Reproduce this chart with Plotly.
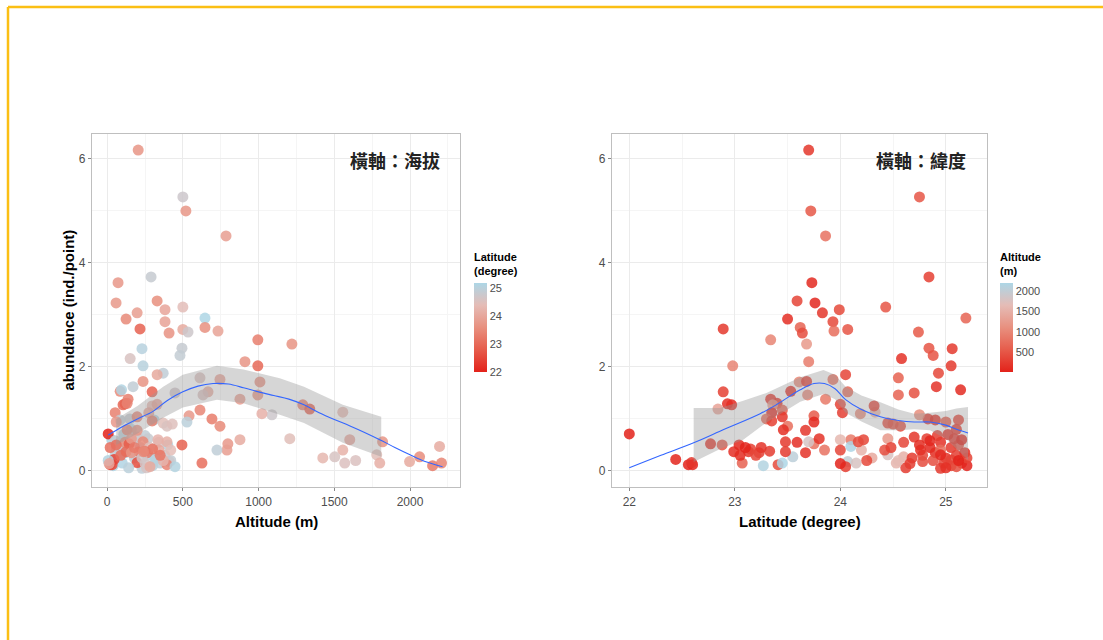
import plotly.graph_objects as go

# Survey points: altitude (m), latitude (degree), abundance (ind./point)
altitude_m = [
    60, 90, 150, 180, 220, 260, 100, 40, 300, 350, 400, 120, 250, 190, 110, 420,
    30, 270, 160, 230, 320, 380, 130, 340, 200, 90, 150, 310, 260, 410,
    205, 500, 520, 785, 290, 72, 330, 59, 500, 382, 198, 646, 125, 382, 646, 217,
    500, 732, 534, 409, 995, 1220, 230, 494, 481, 152, 910, 237, 995, 370, 330, 613,
    745, 1009, 237, 171, 86, 297, 666, 95, 995, 877, 633, 448, 105, 118, 132, 138,
    1292, 1338, 1556, 297, 330, 275, 53, 1088, 1022, 541, 613, 692, 745, 7, 877, 797,
    791, 725, 494, 626, 395, 1206, 1602, 1556, 1424, 1503, 1569, 1641, 1780, 1819, 1997, 2063,
    2149, 2208, 2195, 1800, 86, 198, 132, 198, 297, 370, 395, 53, 118, 145, 237, 336,
    395, 527, 53, 125, 211, 266, 343, 420, 316, 20, 33, 46, 198, 251, 448, 142,
    283, 7, 13, 430, 160, 60, 160, 370, 230, 280, 60, 250, 90, 300, 350, 20,
    180, 240,
]
latitude_deg = [
    24.85, 24.90, 24.95, 25.00, 25.05, 25.10, 25.15, 25.20, 25.05, 24.98, 25.12, 25.18, 24.92, 25.08, 25.02, 24.88,
    25.15, 24.82, 25.10, 24.95, 25.20, 24.78, 24.76, 24.60, 24.70, 24.75, 24.83, 25.12, 24.62, 24.78,
    23.70, 24.75, 23.72, 23.86, 24.84, 23.73, 23.59, 23.76, 24.43, 23.99, 23.83, 25.19, 23.50, 23.93, 23.62, 22.89,
    24.07, 23.94, 24.74, 23.64, 23.34, 23.68, 25.06, 24.84, 24.88, 24.58, 23.70, 25.05, 22.98, 24.93, 24.05, 24.55,
    23.93, 23.61, 23.68, 24.91, 23.53, 22.89, 24.07, 25.14, 23.69, 23.86, 24.55, 24.70, 22.97, 22.93, 23.40, 23.34,
    23.36, 22.84, 24.33, 24.32, 24.00, 24.02, 23.35, 24.75, 24.19, 23.75, 23.45, 23.30, 23.50, 22.00, 24.10, 23.75,
    23.85, 24.95, 22.88, 23.07, 23.41, 24.45, 24.00, 24.20, 24.30, 24.60, 24.53, 24.55, 24.45, 23.70, 24.07, 23.55,
    23.27, 23.45, 24.10, 24.15, 24.90, 23.45, 23.46, 23.67, 23.35, 24.45, 24.57, 24.85, 23.59, 22.77, 23.48, 24.22,
    24.17, 25.00, 24.95, 22.99, 23.13, 23.23, 24.00, 24.42, 25.05, 22.56, 22.60, 22.44, 22.59, 24.66, 25.10, 25.00,
    24.05, 25.12, 24.00, 24.50, 23.80, 23.75, 23.67, 24.25, 24.68, 24.48, 23.04, 23.33, 23.05, 23.15, 23.20, 23.10,
    23.25, 23.48,
]
abundance = [
    0.45, 0.35, 0.55, 0.25, 0.45, 0.30, 0.15, 0.10, 0.10, 0.15, 0.50, 0.35, 0.68, 0.62, 0.70, 0.20,
    0.60, 0.62, 0.80, 0.05, 0.25, 0.30, 0.40, 0.55, 0.65, 0.50, 1.00, 0.98, 0.06, 0.18,
    6.17, 5.27, 5.00, 4.52, 3.73, 3.62, 3.27, 3.23, 3.15, 3.10, 3.04, 2.94, 2.92, 2.87, 2.76, 2.73,
    2.72, 2.69, 2.67, 2.65, 2.52, 2.44, 2.35, 2.36, 2.22, 2.16, 2.10, 2.02, 2.02, 1.88, 1.85, 1.79,
    1.76, 1.71, 1.72, 1.62, 1.53, 1.52, 1.52, 1.56, 1.46, 1.38, 1.46, 1.50, 1.27, 1.29, 1.30, 1.38,
    1.27, 1.19, 1.13, 1.25, 1.28, 1.12, 1.12, 1.08, 1.10, 1.06, 1.17, 1.00, 0.86, 0.71, 0.60, 0.52,
    0.40, 0.40, 0.50, 0.15, 0.12, 0.62, 0.60, 0.40, 0.25, 0.27, 0.15, 0.20, 0.31, 0.56, 0.18, 0.27,
    0.10, 0.15, 0.47, 0.15, 0.98, 1.04, 0.79, 0.78, 0.96, 0.92, 0.86, 0.58, 0.55, 0.52, 0.56, 0.60,
    0.56, 0.94, 0.31, 0.37, 0.37, 0.35, 0.40, 0.40, 0.21, 0.12, 0.12, 0.22, 0.16, 0.14, 0.08, 0.06,
    0.08, 0.20, 0.14, 0.90, 0.62, 0.94, 0.35, 0.20, 0.25, 0.45, 0.50, 0.38, 0.30, 0.42, 0.30, 0.45,
    0.45, 0.37,
]

# Loess fit and confidence band against altitude
fit_alt_x = [7, 100, 200, 300, 400, 500, 600, 700, 800, 900, 1000, 1100, 1200, 1300,
             1400, 1500, 1600, 1700, 1800, 1900, 2000, 2100, 2215]
fit_alt_y = [0.69, 0.85, 1.00, 1.14, 1.36, 1.52, 1.63, 1.68, 1.67, 1.60, 1.52, 1.45, 1.38, 1.27,
             1.12, 0.99, 0.87, 0.74, 0.60, 0.45, 0.31, 0.18, 0.08]
band_alt_x = [60, 200, 370, 500, 725, 900, 1140, 1300, 1556, 1810]
band_alt_lo = [0.50, 0.72, 1.02, 1.22, 1.37, 1.30, 1.08, 0.92, 0.54, 0.27]
band_alt_hi = [1.00, 1.25, 1.62, 1.85, 2.02, 1.95, 1.78, 1.62, 1.27, 1.04]

# Loess fit and confidence band against latitude
fit_lat_x = [22.0, 22.3, 22.61, 22.9, 23.24, 23.4, 23.62, 23.75, 23.85, 23.95, 24.05, 24.2,
             24.38, 24.55, 24.7, 24.85, 25.0, 25.1, 25.21]
fit_lat_y = [0.06, 0.30, 0.54, 0.80, 1.10, 1.28, 1.56, 1.68, 1.68, 1.58, 1.37, 1.18,
             1.04, 0.97, 0.94, 0.94, 0.88, 0.80, 0.73]
band_lat_x = [22.61, 22.86, 23.08, 23.3, 23.62, 23.84, 23.95, 24.05, 24.2, 24.38, 24.55,
              24.7, 24.85, 25.0, 25.1, 25.21]
band_lat_lo = [0.17, 0.42, 0.60, 0.93, 1.33, 1.48, 1.38, 1.12, 0.95, 0.78, 0.78,
               0.80, 0.78, 0.62, 0.42, 0.21]
band_lat_hi = [1.21, 1.21, 1.35, 1.50, 1.80, 1.94, 1.85, 1.62, 1.45, 1.32, 1.18,
               1.10, 1.12, 1.15, 1.20, 1.23]

alt_ticks = [0, 500, 1000, 1500, 2000]
lat_ticks = [22, 23, 24, 25]
abund_ticks = [0, 2, 4, 6]
lat_bar_ticks = [22, 23, 24, 25]
alt_bar_ticks = [500, 1000, 1500, 2000]

W, H = 1103, 640
RED_BLUE = [
    [0.0, "#e3221a"],
    [0.25, "#e65c4b"],
    [0.5, "#e8907f"],
    [0.75, "#e5bcb6"],
    [1.0, "#add6e6"],
]
LATIN = "Liberation Sans, Arial, sans-serif"
CJK = "Noto Sans CJK TC, Noto Sans CJK SC, sans-serif"
TICK_GREY = "#4d4d4d"


def px_x(p):
    return p / W


def px_y(p):
    return 1 - p / H


fig = go.Figure()

# left panel: abundance vs altitude, coloured by latitude
fig.add_trace(go.Scatter(
    x=altitude_m, y=abundance, mode="markers", xaxis="x", yaxis="y",
    marker=dict(
        size=11, opacity=0.85, color=latitude_deg, colorscale=RED_BLUE,
        cmin=min(latitude_deg), cmax=max(latitude_deg), line=dict(width=0),
        colorbar=dict(
            x=px_x(474), xanchor="left", xpad=0, y=px_y(327.5), yanchor="middle", ypad=0,
            len=89, lenmode="pixels", thickness=13, outlinewidth=0,
            tickvals=lat_bar_ticks, ticks="", ticklabelposition="outside",
            tickfont=dict(family=LATIN, size=11, color=TICK_GREY),
        ),
    ),
    hoverinfo="skip", showlegend=False,
))
fig.add_trace(go.Scatter(
    x=band_alt_x + band_alt_x[::-1], y=band_alt_hi + band_alt_lo[::-1],
    xaxis="x", yaxis="y", fill="toself", fillcolor="rgba(153,153,153,0.4)",
    line=dict(width=0), mode="lines", hoverinfo="skip", showlegend=False,
))
fig.add_trace(go.Scatter(
    x=fit_alt_x, y=fit_alt_y, xaxis="x", yaxis="y", mode="lines",
    line=dict(color="#3366FF", width=1.1, shape="spline"), hoverinfo="skip", showlegend=False,
))

# right panel: abundance vs latitude, coloured by altitude
fig.add_trace(go.Scatter(
    x=latitude_deg, y=abundance, mode="markers", xaxis="x2", yaxis="y2",
    marker=dict(
        size=11, opacity=0.85, color=altitude_m, colorscale=RED_BLUE,
        cmin=min(altitude_m), cmax=max(altitude_m), line=dict(width=0),
        colorbar=dict(
            x=px_x(1000), xanchor="left", xpad=0, y=px_y(327.5), yanchor="middle", ypad=0,
            len=89, lenmode="pixels", thickness=13, outlinewidth=0,
            tickvals=alt_bar_ticks, ticks="", ticklabelposition="outside",
            tickfont=dict(family=LATIN, size=11, color=TICK_GREY),
        ),
    ),
    hoverinfo="skip", showlegend=False,
))
fig.add_trace(go.Scatter(
    x=band_lat_x + band_lat_x[::-1], y=band_lat_hi + band_lat_lo[::-1],
    xaxis="x2", yaxis="y2", fill="toself", fillcolor="rgba(153,153,153,0.4)",
    line=dict(width=0), mode="lines", hoverinfo="skip", showlegend=False,
))
fig.add_trace(go.Scatter(
    x=fit_lat_x, y=fit_lat_y, xaxis="x2", yaxis="y2", mode="lines",
    line=dict(color="#3366FF", width=1.1, shape="spline"), hoverinfo="skip", showlegend=False,
))

axis_common = dict(
    showline=True, mirror=True, linecolor="#bfbfbf", linewidth=1.2,
    showgrid=True, gridcolor="#ebebeb", gridwidth=1, zeroline=False,
    ticks="outside", ticklen=3, tickcolor="#888888",
    tickfont=dict(family=LATIN, size=12, color=TICK_GREY),
)
y_dom = [px_y(487), px_y(134)]

fig.update_layout(
    width=W, height=H,
    margin=dict(l=0, r=0, t=0, b=0),
    paper_bgcolor="white", plot_bgcolor="white",
    xaxis=dict(domain=[px_x(92), px_x(460)], range=[-100, 2330], tickvals=alt_ticks,
               anchor="y", minor=dict(showgrid=True, gridcolor="#f5f5f5", dtick=250, tick0=0),
               **axis_common),
    yaxis=dict(domain=y_dom, range=[-0.31, 6.48], tickvals=abund_ticks, anchor="x",
               minor=dict(showgrid=True, gridcolor="#f5f5f5", dtick=1, tick0=0),
               **axis_common),
    xaxis2=dict(domain=[px_x(612), px_x(987)], range=[21.836, 25.39], tickvals=lat_ticks,
                anchor="y2", minor=dict(showgrid=True, gridcolor="#f5f5f5", dtick=0.5, tick0=0),
                **axis_common),
    yaxis2=dict(domain=y_dom, range=[-0.31, 6.48], tickvals=abund_ticks, anchor="x2",
                minor=dict(showgrid=True, gridcolor="#f5f5f5", dtick=1, tick0=0),
                **axis_common),
    shapes=[
        dict(type="line", xref="paper", yref="paper", x0=px_x(8), x1=1.0,
             y0=px_y(7), y1=px_y(7), line=dict(color="#fbbf14", width=2.5)),
        dict(type="line", xref="paper", yref="paper", x0=px_x(8), x1=px_x(8),
             y0=px_y(7), y1=0, line=dict(color="#fbbf14", width=2.5)),
    ],
)

annotations = [
    dict(text="<b>abundance (ind./point)</b>", x=px_x(68), y=px_y(310.5), textangle=-90,
         font=dict(family=LATIN, size=15, color="black")),
    dict(text="<b>Altitude (m)</b>", x=px_x(276), y=px_y(521),
         font=dict(family=LATIN, size=15, color="black")),
    dict(text="<b>Latitude (degree)</b>", x=px_x(799.5), y=px_y(521),
         font=dict(family=LATIN, size=15, color="black")),
    dict(text="<b>橫軸：海拔</b>", x=px_x(442), y=px_y(160), xanchor="right",
         font=dict(family=CJK, size=18, color="#222222")),
    dict(text="<b>橫軸：緯度</b>", x=px_x(968), y=px_y(160), xanchor="right",
         font=dict(family=CJK, size=18, color="#222222")),
    dict(text="<b>Latitude<br>(degree)</b>", x=px_x(472), y=px_y(279), xanchor="left",
         yanchor="bottom", align="left", font=dict(family=LATIN, size=11, color="black")),
    dict(text="<b>Altitude<br>(m)</b>", x=px_x(998), y=px_y(279), xanchor="left",
         yanchor="bottom", align="left", font=dict(family=LATIN, size=11, color="black")),
]
for a in annotations:
    a.setdefault("xanchor", "center")
    a.setdefault("yanchor", "middle")
    fig.add_annotation(xref="paper", yref="paper", showarrow=False, **a)

fig.write_html("out.html", config={"displayModeBar": False})
